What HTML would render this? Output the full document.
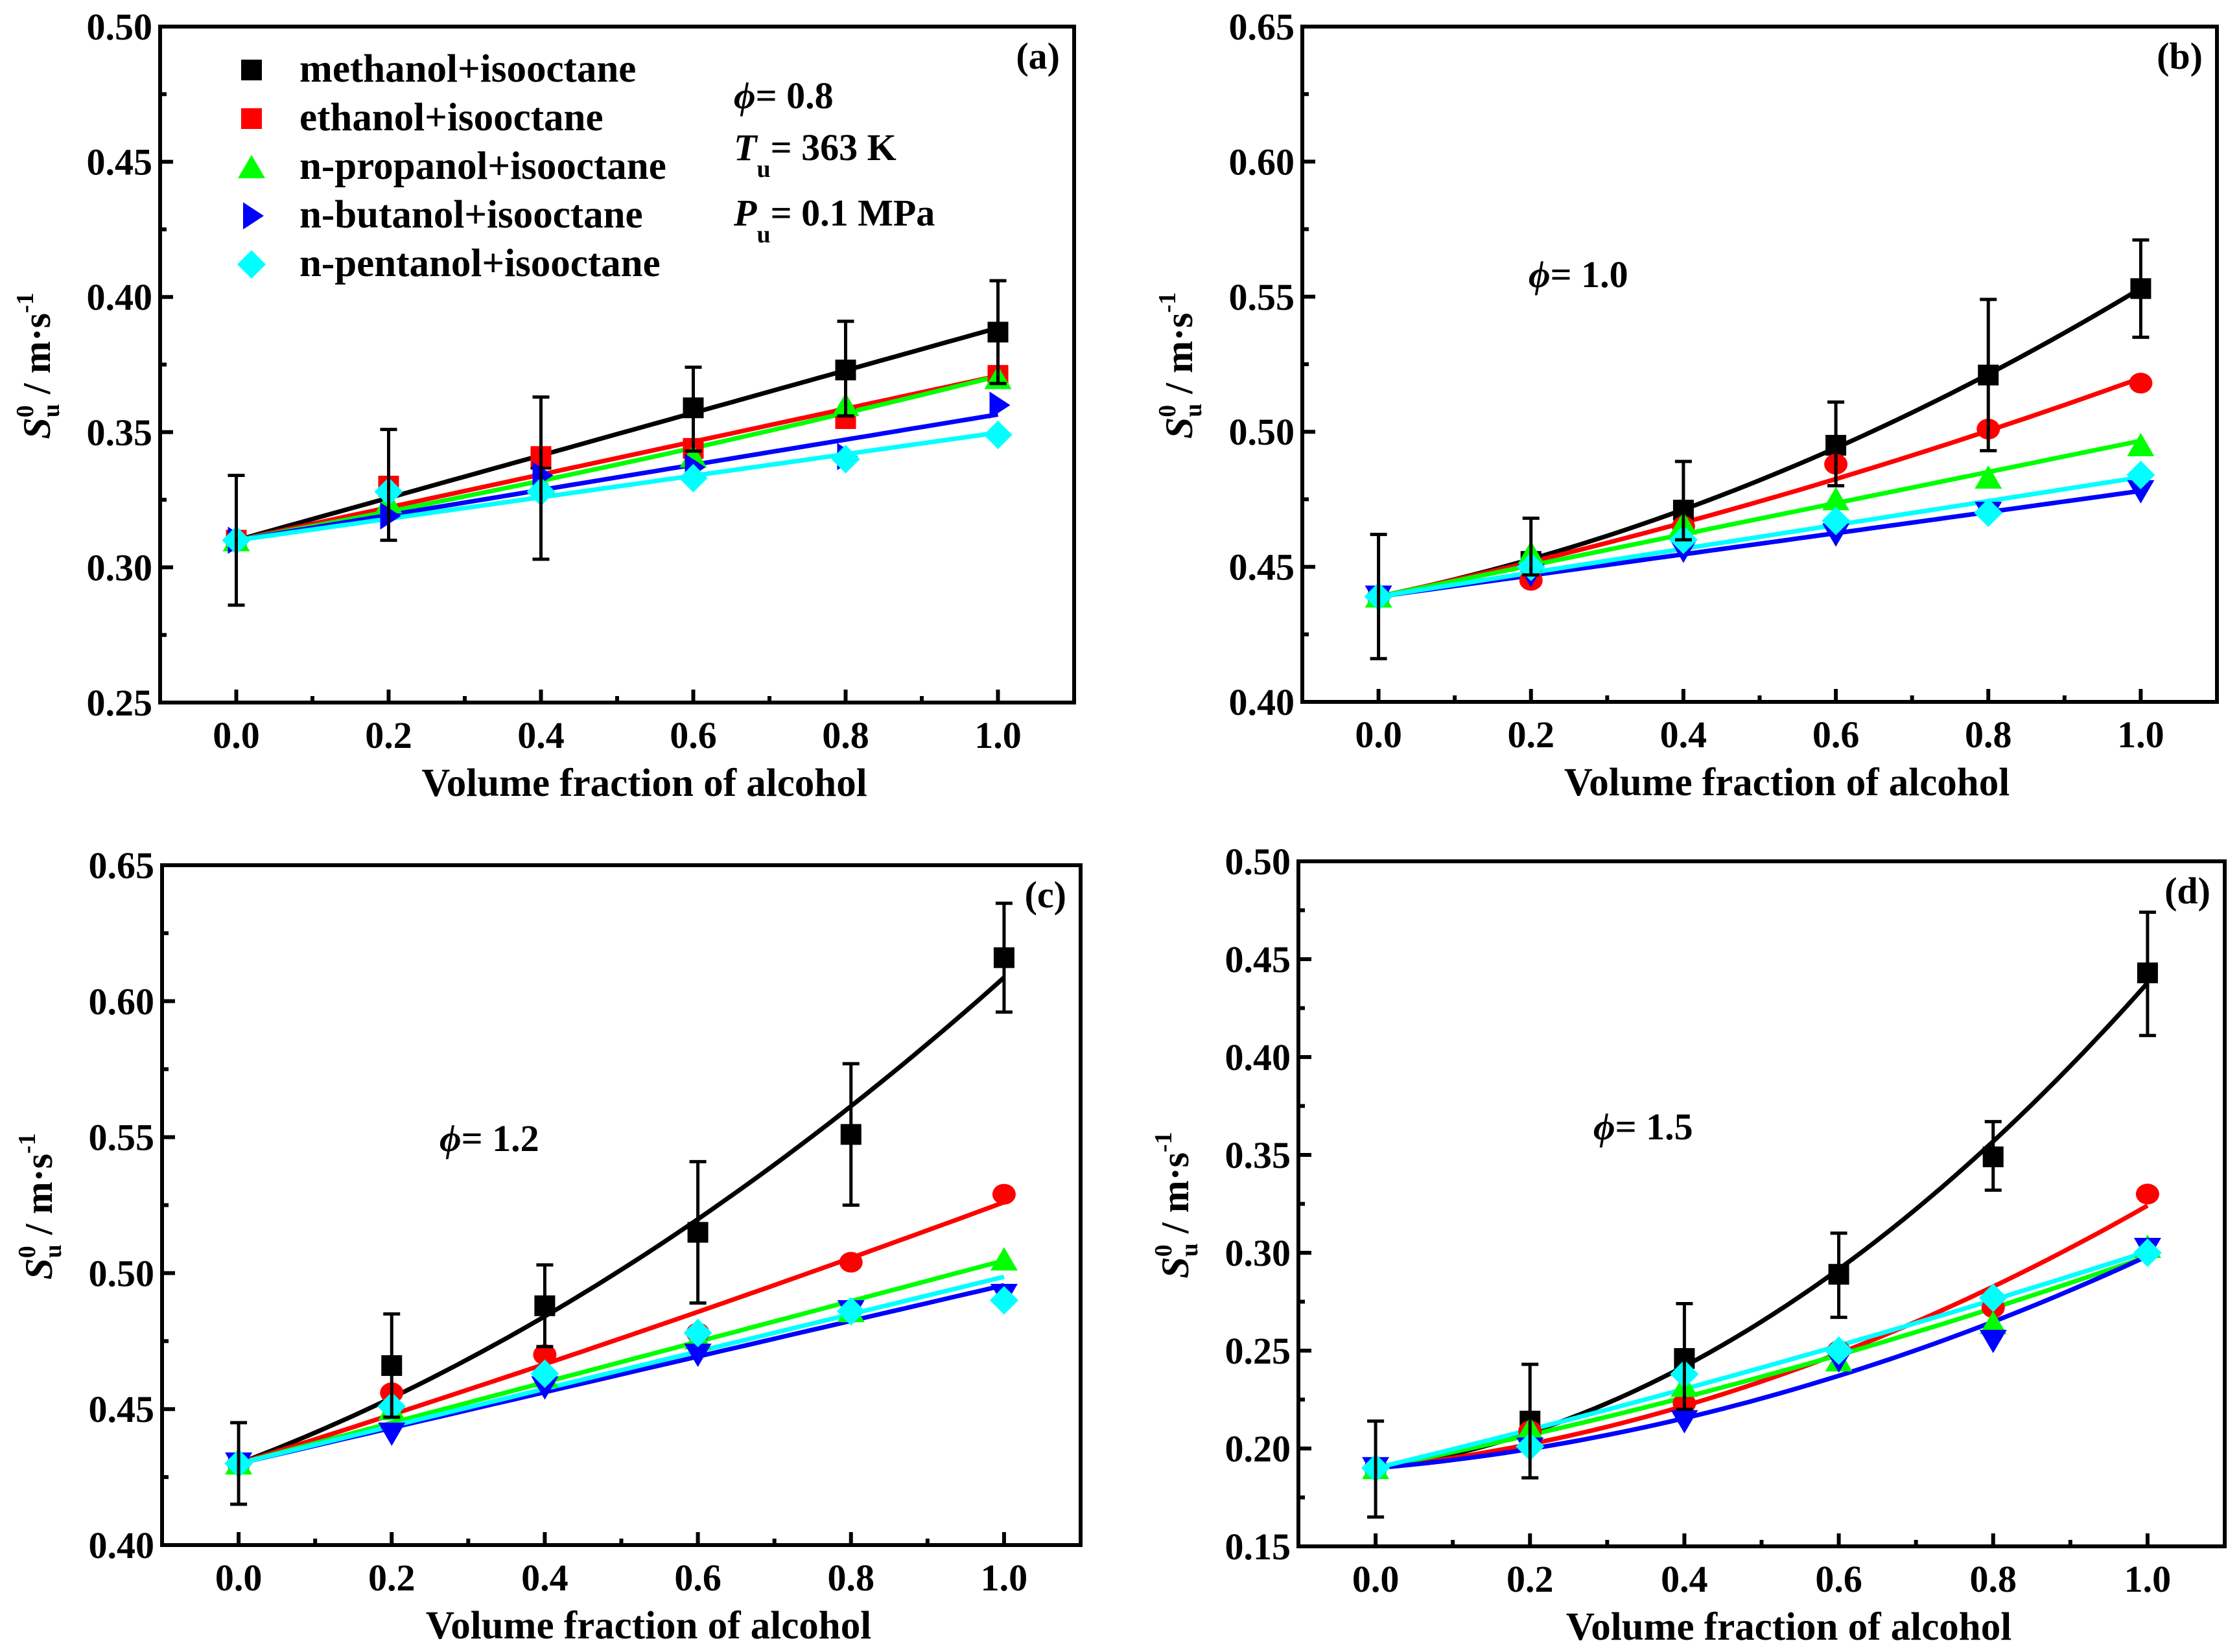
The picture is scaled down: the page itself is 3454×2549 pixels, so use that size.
<!DOCTYPE html>
<html><head><meta charset="utf-8">
<style>
html,body{margin:0;padding:0;background:#fff;}
svg{display:block;font-family:"Liberation Serif",serif;font-weight:bold;}
</style></head>
<body>
<svg id="fig" width="3454" height="2549" viewBox="0 0 3454 2549" xmlns="http://www.w3.org/2000/svg">
<rect width="3454" height="2549" fill="#fff"/>
</svg>
<script>
// ---- data ----
const xVals = [0, 0.2, 0.4, 0.6, 0.8, 1.0];
const seriesNames = ["methanol+isooctane","ethanol+isooctane","n-propanol+isooctane","n-butanol+isooctane","n-pentanol+isooctane"];
const xTickLabels = ["0.0","0.2","0.4","0.6","0.8","1.0"];

// panel (a) phi = 0.8
const aMethanol = [0.310,0.330,0.340,0.359,0.373,0.387];
const aEthanol  = [0.310,0.330,0.341,0.344,0.355,0.371];
const aPropanol = [0.310,0.324,0.331,0.341,0.360,0.370];
const aButanol  = [0.310,0.319,0.334,0.337,0.341,0.360];
const aPentanol = [0.310,0.328,0.328,0.333,0.340,0.349];
const aErrLow   = [0.286,0.310,0.303,0.343,0.356,0.368];
const aErrHigh  = [0.334,0.351,0.363,0.374,0.391,0.406];
const aYTicks   = ["0.25","0.30","0.35","0.40","0.45","0.50"];

// panel (b) phi = 1.0
const bMethanol = [0.439,0.452,0.471,0.495,0.521,0.553];
const bEthanol  = [0.439,0.445,0.465,0.488,0.501,0.518];
const bPropanol = [0.439,0.455,0.466,0.475,0.483,0.495];
const bButanol  = [0.439,0.447,0.456,0.462,0.470,0.478];
const bPentanol = [0.439,0.450,0.460,0.467,0.470,0.484];
const bErrLow   = [0.416,0.447,0.460,0.480,0.493,0.535];
const bErrHigh  = [0.462,0.468,0.489,0.511,0.549,0.571];
const bYTicks   = ["0.40","0.45","0.50","0.55","0.60","0.65"];

// panel (c) phi = 1.2
const cMethanol = [0.430,0.466,0.488,0.515,0.551,0.616];
const cEthanol  = [0.430,0.456,0.470,0.478,0.504,0.529];
const cPropanol = [0.430,0.450,0.462,0.476,0.486,0.505];
const cButanol  = [0.430,0.441,0.458,0.470,0.486,0.492];
const cPentanol = [0.430,0.451,0.463,0.478,0.486,0.490];
const cErrLow   = [0.415,0.447,0.473,0.489,0.525,0.596];
const cErrHigh  = [0.445,0.485,0.503,0.541,0.577,0.636];
const cYTicks   = ["0.40","0.45","0.50","0.55","0.60","0.65"];

// panel (d) phi = 1.5
const dMethanol = [0.190,0.214,0.246,0.289,0.349,0.443];
const dEthanol  = [0.190,0.209,0.223,0.250,0.272,0.330];
const dPropanol = [0.190,0.210,0.232,0.245,0.264,0.303];
const dButanol  = [0.190,0.200,0.214,0.245,0.255,0.302];
const dPentanol = [0.190,0.201,0.238,0.250,0.277,0.300];
const dErrLow   = [0.165,0.185,0.220,0.267,0.332,0.411];
const dErrHigh  = [0.214,0.243,0.274,0.310,0.367,0.474];
const dYTicks   = ["0.15","0.20","0.25","0.30","0.35","0.40","0.45","0.50"];

const colors = ["#000000","#ff0000","#00ff00","#0000ff","#00ffff"];
const NS = "http://www.w3.org/2000/svg";
const svg = document.getElementById('fig');

function mk(tag, attrs, parent){
  const e = document.createElementNS(NS, tag);
  for (const k in attrs) e.setAttribute(k, attrs[k]);
  (parent||svg).appendChild(e);
  return e;
}

// fit y = y0 + a x + b x^2 (least squares, intercept fixed); falls back to linear when concave
function fit(xs, ys){
  const y0 = ys[0];
  let s22=0,s23=0,s33=0,s2y=0,s3y=0;
  for (let i=0;i<xs.length;i++){
    const x=xs[i], r=ys[i]-y0;
    s22+=x*x; s23+=x*x*x; s33+=x*x*x*x; s2y+=x*r; s3y+=x*x*r;
  }
  const det = s22*s33 - s23*s23;
  let a = (s2y*s33 - s3y*s23)/det;
  let b = (s22*s3y - s23*s2y)/det;
  if (b < 0){ a = s2y/s22; b = 0; }
  return x => y0 + a*x + b*x*x;
}

function marker(g, shape, cx, cy, color){
  const s = 16;
  let el;
  if (shape==='square') el = mk('rect',{x:cx-s,y:cy-s,width:2*s,height:2*s,fill:color},g);
  else if (shape==='circle') el = mk('ellipse',{cx:cx,cy:cy,rx:18,ry:16,fill:color},g);
  else if (shape==='up') el = mk('polygon',{points:`${cx},${cy-19} ${cx+21},${cy+17} ${cx-21},${cy+17}`,fill:color},g);
  else if (shape==='down') el = mk('polygon',{points:`${cx},${cy+19} ${cx+21},${cy-17} ${cx-21},${cy-17}`,fill:color},g);
  else if (shape==='right') el = mk('polygon',{points:`${cx+19},${cy} ${cx-13},${cy-21} ${cx-13},${cy+21}`,fill:color},g);
  else el = mk('polygon',{points:`${cx},${cy-22} ${cx+22},${cy} ${cx},${cy+22} ${cx-22},${cy}`,fill:color},g);
  return el;
}

function panel(cfg){
  const g = mk('g',{});
  
  
  const {L,R,T,B,ymin,ymax} = cfg;
  const xs = v => L + (v + 0.1)/1.2*(R-L);
  const ys = v => B - (v-ymin)/(ymax-ymin)*(B-T);

  cfg.series.forEach((arr,si)=>{
    const f = fit(xVals, arr);
    let d = '';
    for (let k=0;k<=60;k++){ const x=k/60; d += (k?'L':'M') + xs(x).toFixed(1)+','+ys(f(x)).toFixed(1); }
    const p = mk('path',{d:d,fill:'none',stroke:colors[si],'stroke-width':7,'stroke-linejoin':'round'},g);
    
    
  });
  cfg.series.forEach((arr,si)=>{
    arr.forEach((v,i)=>{
      const m = marker(g, cfg.shapes[si], xs(xVals[i]), ys(v), colors[si]);
      
      
    });
  });
  cfg.errLow.forEach((lo,i)=>{
    const hi = cfg.errHigh[i], x = xs(xVals[i]);
    const e = mk('path',{d:`M${x},${ys(lo)}V${ys(hi)}M${x-13},${ys(lo)}H${x+13}M${x-13},${ys(hi)}H${x+13}`,stroke:'#000','stroke-width':5,fill:'none'},g);
    
    
  });
  const fr = mk('rect',{x:L,y:T,width:R-L,height:B-T,fill:'none',stroke:'#000','stroke-width':6},g);
  
  
  for (let k=0;k<=10;k++){
    const v=k/10, x=xs(v), len = (k%2===0)?20:10;
    mk('line',{x1:x,y1:B,x2:x,y2:B-len,stroke:'#000','stroke-width':6},g);
  }
  xTickLabels.forEach((lab,i)=>{
    const t = mk('text',{x:xs(xVals[i]),y:B+70,'text-anchor':'middle','font-size':58},g);
    t.textContent = lab;
    
    
  });
  const step = 0.05;
  const n = Math.round((ymax-ymin)/step*2);
  for (let k=0;k<=n;k++){
    const v = ymin + k*step/2, y = ys(v), len = (k%2===0)?20:10;
    mk('line',{x1:L,y1:y,x2:L+len,y2:y,stroke:'#000','stroke-width':6},g);
  }
  cfg.yTicks.forEach(lab=>{
    const t = mk('text',{x:L-12,y:ys(parseFloat(lab))+20,'text-anchor':'end','font-size':58},g);
    t.textContent = lab;
    
    
  });
  const xt = mk('text',{x:(L+R)/2+42,y:B+144,'text-anchor':'middle','font-size':61},g);
  xt.textContent = 'Volume fraction of alcohol';
  
  
  const yt = mk('text',{transform:`translate(${L-170},${(T+B)/2+2}) rotate(-90)`,'text-anchor':'middle','font-size':60},g);
  yt.innerHTML = '<tspan font-style="italic">S</tspan><tspan font-size="38" dy="-26">0</tspan><tspan font-size="38" dx="-19" dy="40">u</tspan><tspan dy="-14"> / m·s</tspan><tspan font-size="38" dy="-26">-1</tspan>';
  
  
  const pl = mk('text',{x:R-22,y:T+65,'text-anchor':'end','font-size':58},g);
  pl.textContent = '(' + cfg.id + ')';
  
  
  const ph = mk('text',{x:cfg.phiX,y:cfg.phiY,'font-size':58},g);
  ph.innerHTML = '<tspan font-style="italic">ϕ</tspan>= ' + cfg.phi;
  
  
  return g;
}

panel({id:'a',L:247,R:1657,T:41,B:1084,ymin:0.25,ymax:0.50,yTicks:aYTicks,
  series:[aMethanol,aEthanol,aPropanol,aButanol,aPentanol],errLow:aErrLow,errHigh:aErrHigh,
  shapes:['square','square','up','right','diamond'],phi:'0.8',phiX:1132,phiY:167});
panel({id:'b',L:2009,R:3420,T:41,B:1083,ymin:0.40,ymax:0.65,yTicks:bYTicks,
  series:[bMethanol,bEthanol,bPropanol,bButanol,bPentanol],errLow:bErrLow,errHigh:bErrHigh,
  shapes:['square','circle','up','down','diamond'],phi:'1.0',phiX:2358,phiY:443});
panel({id:'c',L:250,R:1667,T:1335,B:2384,ymin:0.40,ymax:0.65,yTicks:cYTicks,
  series:[cMethanol,cEthanol,cPropanol,cButanol,cPentanol],errLow:cErrLow,errHigh:cErrHigh,
  shapes:['square','circle','up','down','diamond'],phi:'1.2',phiX:678,phiY:1776});
panel({id:'d',L:2003,R:3432,T:1329,B:2386,ymin:0.15,ymax:0.50,yTicks:dYTicks,
  series:[dMethanol,dEthanol,dPropanol,dButanol,dPentanol],errLow:dErrLow,errHigh:dErrHigh,
  shapes:['square','circle','up','down','diamond'],phi:'1.5',phiX:2458,phiY:1758});

const legShapes = ['square','square','up','right','diamond'];
const lg = mk('g',{});


seriesNames.forEach((nm,i)=>{
  const cy = 108 + i*75;
  const m = marker(lg, legShapes[i], 388, cy, colors[i]);
  
  
  const t = mk('text',{x:462,y:cy+18,'font-size':61},lg);
  t.textContent = nm;
  
  
});

const t1 = mk('text',{x:1132,y:247,'font-size':58});
t1.innerHTML = '<tspan font-style="italic">T</tspan><tspan font-size="38" dy="26">u</tspan><tspan dy="-26">= 363 K</tspan>';


const t2 = mk('text',{x:1132,y:348,'font-size':58});
t2.innerHTML = '<tspan font-style="italic">P</tspan><tspan font-size="38" dy="26">u</tspan><tspan dy="-26">= 0.1 MPa</tspan>';


</script>
</body></html>
